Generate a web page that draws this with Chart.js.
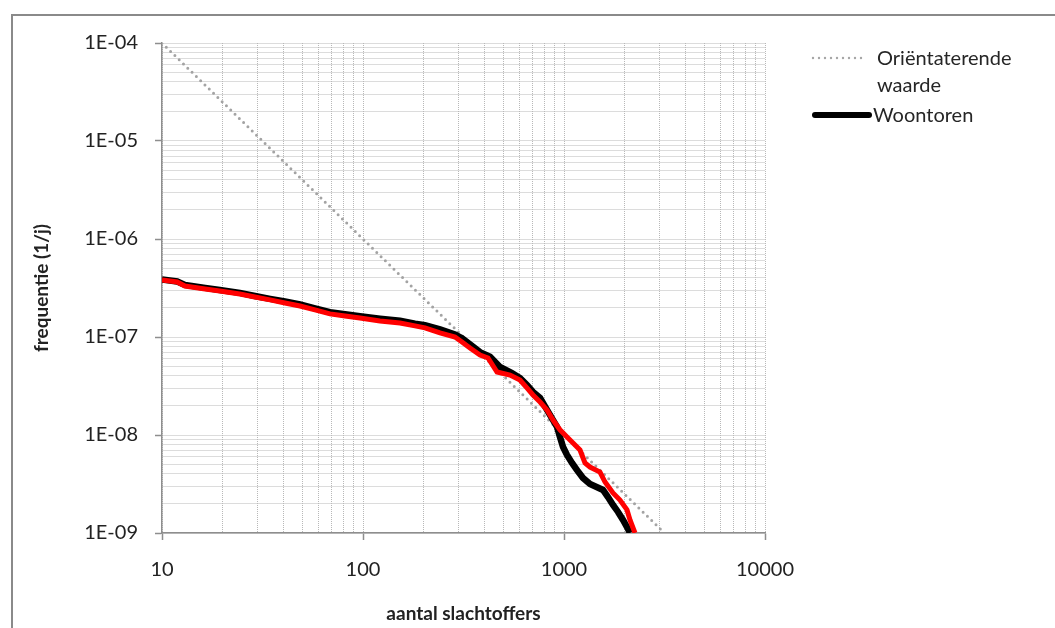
<!DOCTYPE html>
<html>
<head>
<meta charset="utf-8">
<script src="https://cdn.jsdelivr.net/npm/chart.js@4.4.1/dist/chart.umd.min.js"></script>
<style>
  html, body { margin: 0; padding: 0; overflow: hidden; background: #fff; }
  body { width: 1055px; height: 628px; position: relative; font-family: Lato, sans-serif; }
  .frame { position: absolute; left: 11px; top: 14px; width: 1100px; height: 700px; border: 2px solid #8a8a8a; }
  #chart { position: absolute; left: 0; top: 0; }
  .legend-text { position: absolute; color: #262626; font-size: 20px; line-height: 27px; white-space: nowrap; }
  .legend-lines { position: absolute; left: 800px; top: 40px; }
</style>
</head>
<body>
<div class="frame"></div>
<canvas id="chart" width="1055" height="628"></canvas>
<svg class="legend-lines" width="90" height="90">
  <line x1="13" y1="18" x2="63" y2="18" stroke="#a6a6a6" stroke-width="2.4" stroke-dasharray="0 6" stroke-linecap="round"/>
  <line x1="15" y1="75" x2="69" y2="75" stroke="#000" stroke-width="6" stroke-linecap="round"/>
</svg>
<div class="legend-text" style="left:877px; top:44px;">Oriëntaterende<br>waarde</div>
<div class="legend-text" style="left:873px; top:101px;">Woontoren</div>
<script>
// orienterende waarde (dotted guide line)
const orientN = [10, 3162]
const orientF = [1e-4, 1e-9]

// Woontoren (black)
const woontorenN = [10, 11.9, 13.0, 16.4, 19.4, 24.4, 29.0, 34.5, 40.9, 48.6, 57.7, 68.5, 81.4, 96.6,
  121.5, 152.8, 181.4, 203.4, 241.6, 286.9, 310.8, 340.7, 382.1, 428.5, 480.3, 551.2, 604, 654, 701,
  760, 823, 882, 923, 955, 989, 1035, 1096, 1161, 1243, 1347, 1563, 1655, 1753, 1857, 1966, 2058, 2130]
const woontorenF = [3.87e-7, 3.69e-7, 3.40e-7, 3.17e-7, 3.02e-7, 2.82e-7, 2.62e-7, 2.45e-7, 2.31e-7,
  2.15e-7, 1.96e-7, 1.79e-7, 1.71e-7, 1.63e-7, 1.54e-7, 1.47e-7, 1.37e-7, 1.32e-7, 1.20e-7, 1.06e-7,
  9.7e-8, 8.4e-8, 7.0e-8, 6.3e-8, 4.94e-8, 4.29e-8, 3.82e-8, 3.24e-8, 2.75e-8, 2.39e-8, 1.80e-8,
  1.42e-8, 1.21e-8, 9.54e-9, 7.55e-9, 6.25e-9, 5.18e-9, 4.39e-9, 3.64e-9, 3.16e-9, 2.75e-9, 2.33e-9,
  1.93e-9, 1.64e-9, 1.36e-9, 1.15e-9, 1.00e-9]

// second curve (red, not in legend)
const variantN = [10, 11.9, 13.0, 16.4, 19.4, 24.4, 29.0, 34.5, 40.9, 48.6, 57.7, 68.5, 81.4, 96.6,
  121.5, 152.8, 181.4, 203.4, 241.6, 286.9, 310.8, 340.7, 382.1, 418.8, 464.2, 538.6, 604, 654, 701,
  760, 823, 882, 955, 1035, 1109, 1201, 1272, 1347, 1510, 1600, 1753, 1899, 2058, 2130, 2255]
const variantF = [3.82e-7, 3.64e-7, 3.31e-7, 3.09e-7, 2.95e-7, 2.75e-7, 2.56e-7, 2.39e-7, 2.22e-7,
  2.07e-7, 1.89e-7, 1.72e-7, 1.64e-7, 1.56e-7, 1.46e-7, 1.39e-7, 1.30e-7, 1.24e-7, 1.10e-7, 1.00e-7,
  8.89e-8, 7.72e-8, 6.55e-8, 6.11e-8, 4.39e-8, 4.09e-8, 3.64e-8, 3.02e-8, 2.56e-8, 2.17e-8, 1.80e-8,
  1.42e-8, 1.13e-8, 9.54e-9, 8.29e-9, 7.03e-9, 5.18e-9, 4.71e-9, 4.19e-9, 3.31e-9, 2.56e-9, 2.17e-9,
  1.72e-9, 1.36e-9, 1.00e-9]

const xTickLabels = ['10', '100', '1000', '10000']
const yTickLabels = ['1E-09', '1E-08', '1E-07', '1E-06', '1E-05', '1E-04']

const toPoints = (xs, ys) => xs.map((x, i) => ({ x: x, y: ys[i] }))

const isDecade = (v) => Math.abs(Math.log10(v) - Math.round(Math.log10(v))) < 1e-6

// log grid: 1..9 per decade
const decadeTicks = (first, count) => {
  const out = []
  for (let d = 0; d < count; d++) {
    const base = first * Math.pow(10, d)
    for (let m = 1; m < 10; m++) out.push(base * m)
  }
  out.push(first * Math.pow(10, count))
  return out
}
const xGrid = decadeTicks(10, xTickLabels.length - 1)
const yGrid = decadeTicks(1e-9, yTickLabels.length - 1)

const gridColor = '#b8b8b8'
const axisColor = '#8e8e8e'
const font = { family: 'Lato, sans-serif', size: 20 }
const titleFont = { family: 'Lato, sans-serif', size: 19, weight: 'bold' }

new Chart(document.getElementById('chart'), {
  type: 'line',
  data: {
    datasets: [
      {
        label: 'Variant',
        data: toPoints(variantN, variantF),
        borderColor: '#ff0000',
        borderWidth: 5,
        borderJoinStyle: 'miter',
        pointRadius: 0,
        order: 1
      },
      {
        label: 'Woontoren',
        data: toPoints(woontorenN, woontorenF),
        borderColor: '#000000',
        borderWidth: 6.5,
        borderJoinStyle: 'miter',
        pointRadius: 0,
        order: 2
      },
      {
        label: 'Oriëntaterende waarde',
        data: toPoints(orientN, orientF),
        borderColor: '#a3a3a3',
        borderWidth: 3,
        borderDash: [0, 6],
        borderCapStyle: 'round',
        pointRadius: 0,
        order: 3
      }
    ]
  },
  options: {
    responsive: false,
    animation: false,
    events: [],
    layout: { padding: { top: 43, right: 290, bottom: 0, left: 0 } },
    plugins: { legend: { display: false }, tooltip: { enabled: false } },
    scales: {
      x: {
        type: 'logarithmic',
        min: 10,
        max: 10000,
        afterFit: (scale) => { scale.height = 95 },
        afterBuildTicks: (scale) => { scale.ticks = xGrid.map(v => ({ value: v })) },
        grid: {
          color: gridColor,
          lineWidth: 1,
          drawTicks: true,
          tickLength: 7,
          tickColor: (ctx) => ctx.tick && isDecade(ctx.tick.value) ? axisColor : 'rgba(0,0,0,0)',
          tickWidth: 1.5,
          tickBorderDash: []
        },
        border: { display: true, color: axisColor, width: 1.5, dash: [1, 1] },
        ticks: {
          autoSkip: false,
          maxRotation: 0,
          padding: 18,
          color: '#222',
          font: font,
          callback: (v) => isDecade(v) ? xTickLabels[Math.round(Math.log10(v)) - 1] : ''
        },
        title: {
          display: true,
          text: 'aantal slachtoffers',
          color: '#222',
          font: titleFont,
          padding: { top: 0, bottom: 3 }
        }
      },
      y: {
        type: 'logarithmic',
        min: 1e-9,
        max: 1e-4,
        afterFit: (scale) => { scale.width = 162 },
        afterBuildTicks: (scale) => { scale.ticks = yGrid.map(v => ({ value: v })) },
        grid: {
          color: gridColor,
          lineWidth: 1,
          drawTicks: true,
          tickLength: 7,
          tickColor: (ctx) => ctx.tick && isDecade(ctx.tick.value) ? axisColor : 'rgba(0,0,0,0)',
          tickWidth: 1.5,
          tickBorderDash: []
        },
        border: { display: true, color: axisColor, width: 1.5, dash: [1, 1] },
        ticks: {
          autoSkip: false,
          padding: 17,
          color: '#222',
          font: font,
          callback: (v) => isDecade(v) ? yTickLabels[Math.round(Math.log10(v)) + 9] : ''
        },
        title: {
          display: true,
          text: 'frequentie (1/j)',
          color: '#222',
          font: titleFont,
          padding: { top: 30, bottom: 0 }
        }
      }
    }
  }
})
</script>
</body>
</html>
